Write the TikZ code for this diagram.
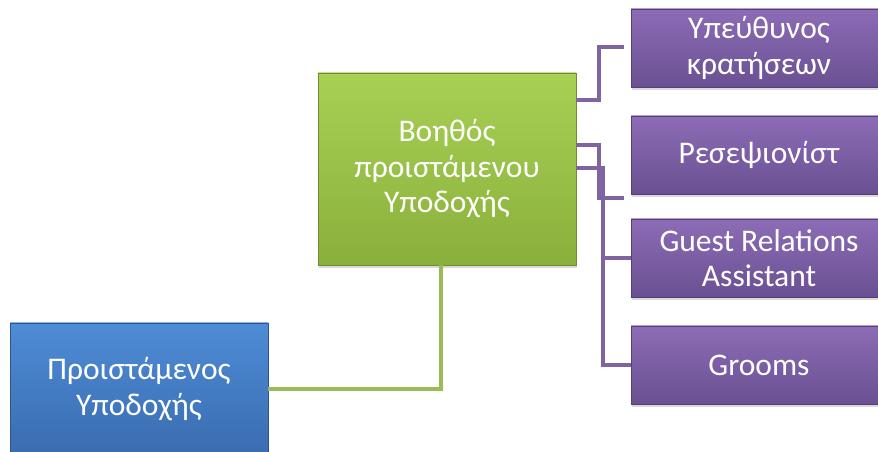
\documentclass[tikz,border=0pt]{standalone}
\usepackage{fontspec}
\setmainfont{Carlito}
\usetikzlibrary{shadows}

\definecolor{bluetop}{RGB}{78,140,214}
\definecolor{bluebot}{RGB}{58,108,176}
\definecolor{greentop}{RGB}{168,208,84}
\definecolor{greenbot}{RGB}{138,176,60}
\definecolor{purpletop}{RGB}{140,108,182}
\definecolor{purplebot}{RGB}{106,80,146}
\definecolor{greenln}{RGB}{155,187,89}
\definecolor{purpleln}{RGB}{128,100,162}

\begin{document}
\begin{tikzpicture}[x=1pt,y=1pt]
        \tikzset{box/.style={rectangle, text=white, align=center,
            font=\fontsize{31.5}{35.5}\selectfont, inner sep=0pt,
            drop shadow={opacity=0.3, shadow xshift=1pt, shadow yshift=-3pt},
            path picture={\draw[white,opacity=0.35,line width=2pt]
              (path picture bounding box.north west) -- (path picture bounding box.north east);}}};
        \tikzset{bluebox/.style={box, draw=bluebot!80!black, top color=bluetop, bottom color=bluebot,
            minimum width=258pt, minimum height=132pt}};
        \tikzset{greenbox/.style={box, draw=greenbot!80!black, top color=greentop, bottom color=greenbot,
            minimum width=258pt, minimum height=192pt}};
        \tikzset{purplebox/.style={box, draw=purplebot!80!black, top color=purpletop, bottom color=purplebot,
            minimum width=256pt, minimum height=78pt}};
        \tikzset{greenline/.style={draw=greenln, line width=4pt}};
        \tikzset{purpleline/.style={draw=purpleln, line width=4pt}};

        \useasboundingbox (0,0) rectangle (878,452);
        \clip (0,0) rectangle (878,452);

        \node[bluebox] (head) at (139,63) {Προιστάμενος\\Υποδοχής};
        \node[greenbox] (asst) at (447,283) {Βοηθός\\προιστάμενου\\Υποδοχής};

        \node[purplebox] (resv) at (759,404) {Υπεύθυνος\\κρατήσεων};
        \node[purplebox] (recep) at (759,297) {Ρεσεψιονίστ};
        \node[purplebox] (guest) at (759,194) {Guest Relations\\Assistant};
        \node[purplebox] (grooms) at (759,87) {Grooms};

        \draw[greenline] (head.east) -| ([xshift=-6pt]asst.south);

        \draw[purpleline] ([yshift=69pt]asst.east) -- ++(23,0) |- ([xshift=-7pt,yshift=1pt]resv.west);
        \draw[purpleline] ([yshift=24pt]asst.east) -- ++(23,0) |- ([xshift=-7pt,yshift=-43pt]recep.west);
        \draw[purpleline] ([yshift=1pt]asst.east) -- ++(27,0) coordinate (fork) |- (grooms.west);
        \draw[purpleline] (fork |- guest.west) -- (guest.west);
    \end{tikzpicture}
\end{document}
